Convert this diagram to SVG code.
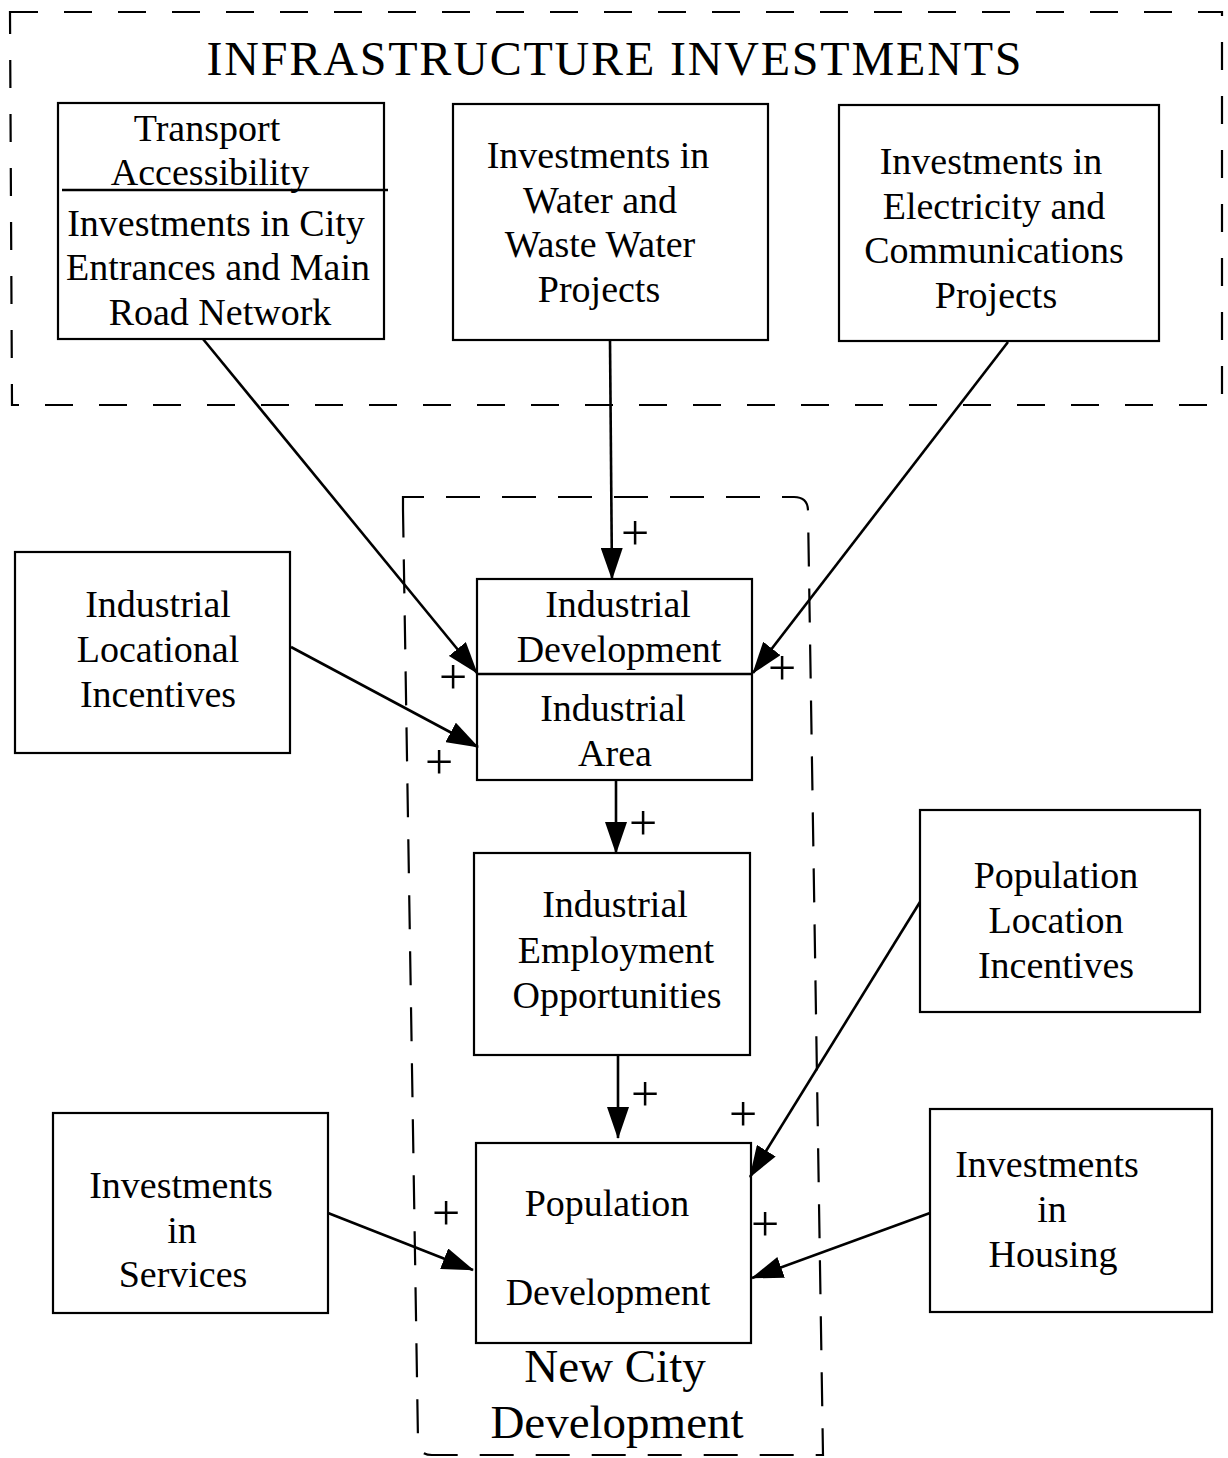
<svg xmlns="http://www.w3.org/2000/svg" width="1228" height="1458" viewBox="0 0 1228 1458">
<style>
  .box { fill: none; stroke: #000; stroke-width: 2.2; }
  .dash { fill: none; stroke: #000; stroke-width: 2.2; }
  .t { font-family: "Liberation Serif", "Times New Roman", serif; font-size: 38px; fill: #000; text-anchor: middle; }
  .big { font-size: 47px; }
  .plus { font-family: "Liberation Serif", "Times New Roman", serif; font-size: 50px; fill: #000; text-anchor: middle; }
  .conn line { stroke: #000; stroke-width: 2.6; marker-end: url(#arr); }
</style>
<defs>
  <marker id="arr" viewBox="0 0 32 22" refX="31" refY="11" markerWidth="32" markerHeight="22" orient="auto" markerUnits="userSpaceOnUse">
    <path d="M0,0 L32,11 L0,22 Z" fill="#000"/>
  </marker>
</defs>
<rect width="1228" height="1458" fill="#fff"/>

<g id="infrastructure-group">
  <path class="dash" stroke-dasharray="28 26" d="M10,12 L1222,12 L1222,405 L12,405 Z"/>
  <text class="t" x="614" y="75" style="font-size:48px" textLength="815" lengthAdjust="spacing">INFRASTRUCTURE INVESTMENTS</text>
</g>

<g id="new-city-group">
  <path class="dash" stroke-dasharray="34 22" d="M403,510 L403,497 L794,497 Q808,497 808,511 L823,1455 L432,1455 Q418,1455 418,1441 Z"/>
  <text class="t big" x="615" y="1382">New City</text>
  <text class="t big" x="617" y="1438">Development</text>
</g>

<g id="transport">
  <rect class="box" x="58" y="103" width="326" height="236"/>
  <line x1="62" y1="190" x2="388" y2="190" stroke="#000" stroke-width="2.4"/>
  <text class="t" x="207" y="141">Transport</text>
  <text class="t" x="210" y="185">Accessibility</text>
  <text class="t" x="216" y="236">Investments in City</text>
  <text class="t" x="218" y="280">Entrances and Main</text>
  <text class="t" x="220" y="325">Road Network</text>
</g>

<g id="water">
  <rect class="box" x="453" y="104" width="315" height="236"/>
  <text class="t" x="598" y="168">Investments in</text>
  <text class="t" x="600" y="213">Water and</text>
  <text class="t" x="600" y="257">Waste Water</text>
  <text class="t" x="599" y="302">Projects</text>
</g>

<g id="electricity">
  <rect class="box" x="839" y="105" width="320" height="236"/>
  <text class="t" x="991" y="174">Investments in</text>
  <text class="t" x="994" y="219">Electricity and</text>
  <text class="t" x="994" y="263">Communications</text>
  <text class="t" x="996" y="308">Projects</text>
</g>

<g id="industrial-development">
  <rect class="box" x="477" y="579" width="275" height="201"/>
  <line x1="477" y1="674" x2="752" y2="674" stroke="#000" stroke-width="2.4"/>
  <text class="t" x="618" y="617">Industrial</text>
  <text class="t" x="619" y="662">Development</text>
  <text class="t" x="613" y="721">Industrial</text>
  <text class="t" x="615" y="766">Area</text>
</g>

<g id="industrial-locational-incentives">
  <rect class="box" x="15" y="552" width="275" height="201"/>
  <text class="t" x="158" y="617">Industrial</text>
  <text class="t" x="158" y="662">Locational</text>
  <text class="t" x="158" y="707">Incentives</text>
</g>

<g id="industrial-employment">
  <rect class="box" x="474" y="853" width="276" height="202"/>
  <text class="t" x="615" y="917">Industrial</text>
  <text class="t" x="616" y="963">Employment</text>
  <text class="t" x="617" y="1008">Opportunities</text>
</g>

<g id="population-location-incentives">
  <rect class="box" x="920" y="810" width="280" height="202"/>
  <text class="t" x="1056" y="888">Population</text>
  <text class="t" x="1056" y="933">Location</text>
  <text class="t" x="1056" y="978">Incentives</text>
</g>

<g id="investments-services">
  <rect class="box" x="53" y="1113" width="275" height="200"/>
  <text class="t" x="181" y="1198">Investments</text>
  <text class="t" x="182" y="1243">in</text>
  <text class="t" x="183" y="1287">Services</text>
</g>

<g id="population-development">
  <rect class="box" x="476" y="1143" width="275" height="200"/>
  <text class="t" x="607" y="1216">Population</text>
  <text class="t" x="608" y="1305">Development</text>
</g>

<g id="investments-housing">
  <rect class="box" x="930" y="1109" width="282" height="203"/>
  <text class="t" x="1047" y="1177">Investments</text>
  <text class="t" x="1052" y="1222">in</text>
  <text class="t" x="1053" y="1267">Housing</text>
</g>

<g id="connectors" class="conn">
  <line x1="203" y1="339" x2="477" y2="673"/>
  <line x1="610" y1="340" x2="612" y2="579"/>
  <line x1="1008" y1="342" x2="753" y2="673"/>
  <line x1="291" y1="647" x2="478" y2="747"/>
  <line x1="616" y1="780" x2="616" y2="853"/>
  <line x1="618" y1="1055" x2="618" y2="1138"/>
  <line x1="920" y1="902" x2="750" y2="1177"/>
  <line x1="328" y1="1213" x2="473" y2="1270"/>
  <line x1="930" y1="1213" x2="752" y2="1278"/>
</g>

<g id="polarity-labels">
  <text class="plus" x="635" y="550">+</text>
  <text class="plus" x="453" y="694">+</text>
  <text class="plus" x="782" y="685">+</text>
  <text class="plus" x="439" y="779">+</text>
  <text class="plus" x="643" y="840">+</text>
  <text class="plus" x="645" y="1111">+</text>
  <text class="plus" x="743" y="1131">+</text>
  <text class="plus" x="446" y="1230">+</text>
  <text class="plus" x="765" y="1241">+</text>
</g>
</svg>
